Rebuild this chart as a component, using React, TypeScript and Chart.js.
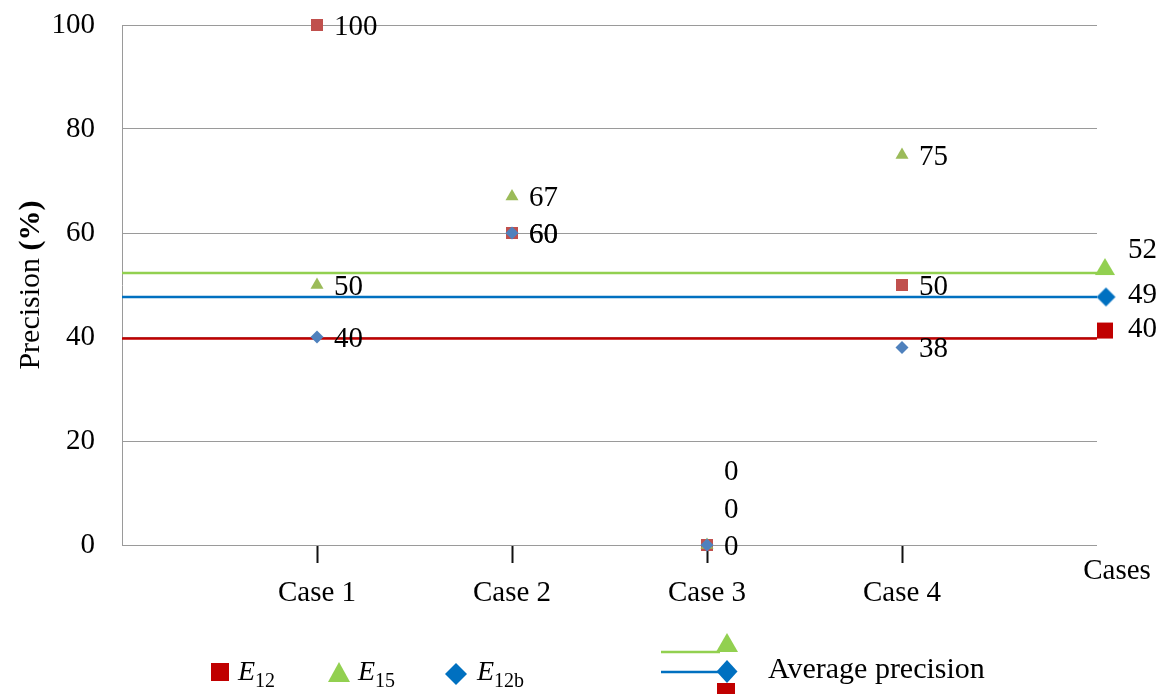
import React, { useEffect, useRef } from "react";
import { Chart, registerables } from "chart.js";

Chart.register(...registerables);

// ---------- data ----------
const categories = ["Case 1", "Case 2", "Case 3", "Case 4"];
const casePositions = [1, 2, 3, 4];
const axisEndLabel = "Cases";
const xMin = 0;
const xMax = 5;

const e12Values = [100, 60, 0, 50];
const e15Values = [50, 67, 0, 75];
const e12bValues = [40, 60, 0, 38];

const avgE15 = 52.3;
const avgE12b = 47.7;
const avgE12 = 39.7;
const avgLabels = ["52", "49", "40"];

const yTicks = [0, 20, 40, 60, 80, 100];
const yTitleMain = "Precision ";
const yTitleUnit = "(%)";

const legendSubs = ["12", "15", "12b"];
const avgLegendText = "Average precision";

// ---------- style ----------
const FONT = "'Liberation Serif', 'Times New Roman', Times, serif";
const GRID = "#9a9a9a";
const C_E12 = "#C0504D";
const C_E15 = "#9BBB59";
const C_E12B = "#4F81BD";
const L_RED = "#C00000";
const L_GREEN = "#92D050";
const L_BLUE = "#0070C0";

function drawShape(g: CanvasRenderingContext2D, shape: string, cx: number, cy: number, w: number, h: number, color: string) {
  g.fillStyle = color;
  g.beginPath();
  if (shape === "rect") {
    g.rect(cx - w / 2, cy - h / 2, w, h);
  } else if (shape === "triangle") {
    g.moveTo(cx, cy - h / 2);
    g.lineTo(cx + w / 2, cy + h / 2);
    g.lineTo(cx - w / 2, cy + h / 2);
    g.closePath();
  } else {
    g.moveTo(cx, cy - h / 2);
    g.lineTo(cx + w / 2, cy);
    g.lineTo(cx, cy + h / 2);
    g.lineTo(cx - w / 2, cy);
    g.closePath();
  }
  g.fill();
}

function makeMarker(shape: string, color: string, w: number, h: number, dx: number, dy: number) {
  const pad = 2;
  const W = Math.ceil(2 * (Math.abs(dx) + w / 2 + pad));
  const H = Math.ceil(2 * (Math.abs(dy) + h / 2 + pad));
  const c = document.createElement("canvas");
  c.width = W;
  c.height = H;
  const g = c.getContext("2d")!;
  drawShape(g, shape, W / 2 + dx, H / 2 + dy, w, h, color);
  return c;
}

const pts = (vals: number[]) => casePositions.map((x, i) => ({ x, y: vals[i] }));
const avgLine = (v: number) => [
  { x: xMin, y: v },
  { x: xMax, y: v },
];

const labelNudges: Record<string, number> = { "E15|2": -37, "E12b|2": -75 };

const overlayPlugin = {
  id: "overlay",
  afterDatasetsDraw(chart: any) {
    const ctx = chart.ctx as CanvasRenderingContext2D;
    ctx.save();
    ctx.fillStyle = "#000";
    ctx.textBaseline = "middle";
    ctx.textAlign = "left";
    ctx.font = `29px ${FONT}`;
    chart.data.datasets.forEach((ds: any, di: number) => {
      const meta = chart.getDatasetMeta(di);
      if (ds.valueLabels) {
        meta.data.forEach((el: any, i: number) => {
          const nudge = labelNudges[`${ds.label}|${i}`] || 0;
          ctx.fillText(String(ds.data[i].y), el.x + 17, el.y + 2 + nudge);
        });
      }
      if (ds.avgLabel) {
        const el = meta.data[meta.data.length - 1];
        ctx.fillText(ds.avgLabel, el.x + 31, el.y + ds.avgLabelDy);
      }
    });
    ctx.restore();
  },
  afterDraw(chart: any) {
    const ctx = chart.ctx as CanvasRenderingContext2D;
    const area = chart.chartArea;
    const xs = chart.scales.x;
    ctx.save();
    ctx.fillStyle = "#000";
    // y title
    ctx.save();
    ctx.translate(31, (area.top + area.bottom) / 2);
    ctx.rotate(-Math.PI / 2);
    ctx.textBaseline = "middle";
    ctx.font = `30px ${FONT}`;
    const w1 = ctx.measureText(yTitleMain).width;
    ctx.font = `bold 30px ${FONT}`;
    const w2 = ctx.measureText(yTitleUnit).width;
    ctx.textAlign = "left";
    ctx.font = `30px ${FONT}`;
    ctx.fillText(yTitleMain, -(w1 + w2) / 2, 0);
    ctx.font = `bold 30px ${FONT}`;
    ctx.fillText(yTitleUnit, -(w1 + w2) / 2 + w1, 0);
    ctx.restore();

    // axis end label
    ctx.font = `29px ${FONT}`;
    ctx.textAlign = "center";
    ctx.textBaseline = "middle";
    ctx.fillText(axisEndLabel, xs.getPixelForValue(xMax) + 20, area.bottom + 26);

    // legend left
    const legendY = 672;
    const items = [
      { shape: "rect", color: L_RED, cx: 220, w: 18, h: 18, tx: 238 },
      { shape: "triangle", color: L_GREEN, cx: 339, w: 22, h: 20, tx: 358 },
      { shape: "diamond", color: L_BLUE, cx: 456, w: 22, h: 22, tx: 477 },
    ];
    items.forEach((it, i) => {
      drawShape(ctx, it.shape, it.cx, legendY + (i === 2 ? 2 : 0), it.w, it.h, it.color);
      ctx.fillStyle = "#000";
      ctx.textAlign = "left";
      ctx.textBaseline = "alphabetic";
      ctx.font = `italic 28px ${FONT}`;
      ctx.fillText("E", it.tx, 680);
      const ew = ctx.measureText("E").width;
      ctx.font = `20px ${FONT}`;
      ctx.fillText(legendSubs[i], it.tx + ew, 687);
    });

    // legend right (average)
    ctx.lineWidth = 2.5;
    ctx.strokeStyle = L_GREEN;
    ctx.beginPath();
    ctx.moveTo(661, 652);
    ctx.lineTo(720, 652);
    ctx.stroke();
    drawShape(ctx, "triangle", 727, 642.5, 22, 19, L_GREEN);
    ctx.strokeStyle = L_BLUE;
    ctx.beginPath();
    ctx.moveTo(661, 672);
    ctx.lineTo(720, 672);
    ctx.stroke();
    drawShape(ctx, "diamond", 727, 671.5, 21, 23, L_BLUE);
    drawShape(ctx, "rect", 726, 692, 18, 18, L_RED);
    ctx.fillStyle = "#000";
    ctx.font = `30px ${FONT}`;
    ctx.textAlign = "left";
    ctx.textBaseline = "middle";
    ctx.fillText(avgLegendText, 768, 670);
    ctx.restore();
  },
};

export default function App() {
  const ref = useRef<HTMLCanvasElement>(null);
  useEffect(() => {
    const canvas = ref.current!;
    const avgTri = makeMarker("triangle", L_GREEN, 20, 17, 8, -6.5);
    const avgDia = makeMarker("diamond", L_BLUE, 19, 19, 9, 0);
    const avgSq = makeMarker("rect", L_RED, 16, 16, 8, -8);

    const chart = new Chart(canvas, {
      type: "scatter",
      data: {
        datasets: [
          {
            label: "E12",
            data: pts(e12Values),
            pointStyle: "rect",
            pointRadius: 8.5,
            backgroundColor: C_E12,
            borderColor: C_E12,
            borderWidth: 0,
            order: 2,
            clip: false,
            valueLabels: true,
          } as any,
          {
            label: "E15",
            data: pts(e15Values),
            pointStyle: "triangle",
            pointRadius: 7.5,
            backgroundColor: C_E15,
            borderColor: C_E15,
            borderWidth: 0,
            order: 1,
            clip: false,
            valueLabels: true,
          } as any,
          {
            label: "E12b",
            data: pts(e12bValues),
            pointStyle: "rectRot",
            pointRadius: 6.5,
            backgroundColor: C_E12B,
            borderColor: C_E12B,
            borderWidth: 0,
            order: 0,
            clip: false,
            valueLabels: true,
          } as any,
          {
            label: "avgE15",
            data: avgLine(avgE15),
            showLine: true,
            borderColor: L_GREEN,
            borderWidth: 2.5,
            pointBorderWidth: 0,
            backgroundColor: L_GREEN,
            pointRadius: [0, 6],
            pointStyle: ["circle", avgTri],
            order: 5,
            clip: false,
            avgLabel: avgLabels[0],
            avgLabelDy: -23,
          } as any,
          {
            label: "avgE12b",
            data: avgLine(avgE12b),
            showLine: true,
            borderColor: L_BLUE,
            borderWidth: 2.5,
            pointBorderWidth: 0,
            backgroundColor: L_BLUE,
            pointRadius: [0, 6],
            pointStyle: ["circle", avgDia],
            order: 4,
            clip: false,
            avgLabel: avgLabels[1],
            avgLabelDy: -2,
          } as any,
          {
            label: "avgE12",
            data: avgLine(avgE12),
            showLine: true,
            borderColor: L_RED,
            borderWidth: 2.5,
            pointBorderWidth: 0,
            backgroundColor: L_RED,
            pointRadius: [0, 6],
            pointStyle: ["circle", avgSq],
            order: 3,
            clip: false,
            avgLabel: avgLabels[2],
            avgLabelDy: -9,
          } as any,
        ],
      },
      options: {
        responsive: false,
        animation: false,
        devicePixelRatio: 1,
        events: [],
        layout: { autoPadding: false, padding: { left: 0, top: 25, right: 70, bottom: 0 } },
        plugins: {
          legend: { display: false },
          tooltip: { enabled: false },
        },
        scales: {
          x: {
            type: "linear",
            min: xMin,
            max: xMax,
            afterBuildTicks: (s: any) => {
              s.ticks = casePositions.map((v) => ({ value: v }));
            },
            afterFit: (s: any) => {
              s.height = 149;
              s.paddingLeft = 0;
              s.paddingRight = 0;
            },
            ticks: {
              autoSkip: false,
              maxRotation: 0,
              padding: 13,
              color: "#000",
              font: { family: FONT, size: 29 },
              callback: (v: any) => categories[casePositions.indexOf(Number(v))] ?? "",
            },
            grid: {
              drawOnChartArea: false,
              drawTicks: true,
              tickLength: 18,
              tickColor: "#111",
              tickWidth: 2,
            },
            border: { display: false },
          },
          y: {
            min: 0,
            max: 100,
            afterBuildTicks: (s: any) => {
              s.ticks = yTicks.map((v) => ({ value: v }));
            },
            afterFit: (s: any) => {
              s.width = 122;
              s.paddingTop = 0;
              s.paddingBottom = 0;
            },
            ticks: {
              padding: 27,
              color: "#000",
              font: { family: FONT, size: 29 },
            },
            grid: {
              color: GRID,
              lineWidth: 1,
              drawTicks: false,
            },
            border: { display: true, color: GRID, width: 1 },
          },
        },
      } as any,
      plugins: [overlayPlugin],
    });
    return () => chart.destroy();
  }, []);

  return (
    <div style={{ position: "absolute", left: 0, top: 0, width: 1167, height: 694, background: "#fff" }}>
      <canvas ref={ref} width={1167} height={694} style={{ width: 1167, height: 694, display: "block" }} />
    </div>
  );
}
